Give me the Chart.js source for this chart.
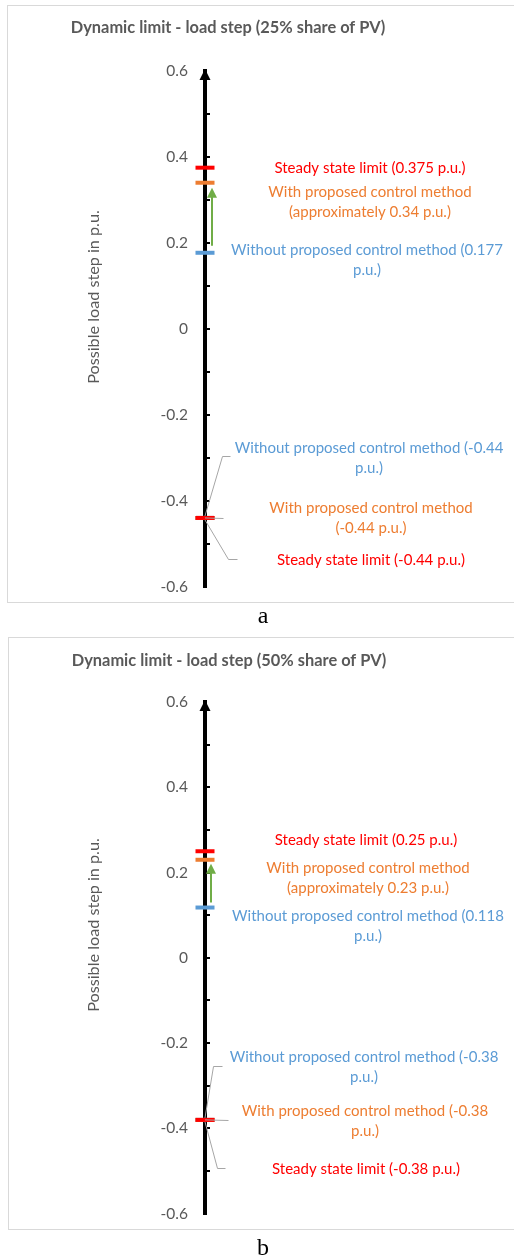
<!DOCTYPE html>
<html><head><meta charset="utf-8">
<script src="https://cdn.jsdelivr.net/npm/chart.js@4"></script>
<style>
html,body{margin:0;padding:0;background:#fff;overflow:hidden;width:514px;height:1257px;}
.frame{position:absolute;border:1px solid #d9d9d9;border-right:none;}
canvas{position:absolute;left:0;}
.cap{position:absolute;font-family:"Liberation Serif",serif;font-size:24px;line-height:24px;color:#000;width:514px;text-align:center;left:6px;}
</style></head>
<body>
<div class="frame" style="left:7px;top:5px;width:507px;height:596px;"></div>
<div class="frame" style="left:8px;top:637px;width:506px;height:591px;"></div>
<canvas id="chartA" width="514" height="605" style="top:0px"></canvas>
<canvas id="chartB" width="514" height="605" style="top:630px"></canvas>
<div class="cap" style="top:603px">a</div>
<div class="cap" style="top:1235px">b</div>
<script>
// ---- data ----
const categories = ['Steady state limit', 'With proposed control method', 'Without proposed control method'];
const seriesColors = ['#FF0000', '#ED7D31', '#5B9BD5'];
const upperA = [0.375, 0.34, 0.177];
const lowerA = [-0.44, -0.44, -0.44];
const upperB = [0.25, 0.23, 0.118];
const lowerB = [-0.38, -0.38, -0.38];
const yTickLabels = ['-0.6', '-0.4', '-0.2', '0', '0.2', '0.4', '0.6'];
const titles = ['Dynamic limit - load step (25% share of PV)', 'Dynamic limit - load step (50% share of PV)'];
const axisTitle = 'Possible load step in p.u.';
const upperTextA = [['Steady state limit (0.375 p.u.)'], ['With proposed control method', '(approximately 0.34 p.u.)'], ['Without proposed control method (0.177', 'p.u.)']];
const lowerTextA = [['Steady state limit (-0.44 p.u.)'], ['With proposed control method', '(-0.44 p.u.)'], ['Without proposed control method (-0.44', 'p.u.)']];
const upperTextB = [['Steady state limit (0.25 p.u.)'], ['With proposed control method', '(approximately 0.23 p.u.)'], ['Without proposed control method (0.118', 'p.u.)']];
const lowerTextB = [['Steady state limit (-0.38 p.u.)'], ['With proposed control method (-0.38', 'p.u.)'], ['Without proposed control method (-0.38', 'p.u.)']];

// ---- layout (pixel placement of plot area and annotations) ----
const layoutA = {
  areaTop: 71, areaBottom: 587, title: {cx: 228, cy: 28}, axisTitle: {cx: 94, cy: 297},
  arrow: {x: 212, bottomOff: -7, topOff: 5},
  upperPos: [{cx: 370, cy: 168}, {cx: 370, cy: 192}, {cx: 367, cy: 250}],
  lowerPos: [{cx: 371, cy: 560}, {cx: 371, cy: 508}, {cx: 369, cy: 448}],
  leaders: [[{dx: 0, dy: 2}, [228, 559], [237, 559]], [{dx: 0, dy: 0}, [223, 518]], [{dx: 0, dy: -2}, [222, 456], [230, 456]]]
};
const layoutB = {
  areaTop: 72, areaBottom: 584, title: {cx: 229, cy: 31}, axisTitle: {cx: 94, cy: 295},
  arrow: {x: 211, bottomOff: -5, topOff: 4},
  upperPos: [{cx: 366, cy: 210}, {cx: 368, cy: 238}, {cx: 368, cy: 286}],
  lowerPos: [{cx: 366, cy: 539}, {cx: 365, cy: 481}, {cx: 364, cy: 427}],
  leaders: [[{dx: 0, dy: 2}, [217, 538], [225, 538]], [{dx: 0, dy: 0}, [228, 490]], [{dx: 0, dy: -2}, [213, 436], [222, 436]]]
};

const FONT = 'Lato';
const GREY = '#595959';

const decor = {
  id: 'decor',
  afterDraw(chart, args, o) {
    const ctx = chart.ctx;
    const ys = chart.scales.y;
    const ax = ys.right;
    const L = o.layout;
    ctx.save();
    // arrow head on the axis
    const top = ys.getPixelForValue(0.6);
    ctx.fillStyle = '#000';
    ctx.beginPath();
    ctx.moveTo(ax, top - 2);
    ctx.lineTo(ax - 5.5, top + 9);
    ctx.lineTo(ax + 5.5, top + 9);
    ctx.closePath();
    ctx.fill();
    // small ticks every 0.1, right side of the axis
    for (let k = -5; k <= 5; k++) {
      const py = Math.round(ys.getPixelForValue(k / 10));
      ctx.fillRect(ax + 2, py - 1, 3, 2);
    }
    // leader lines for the lower labels
    ctx.strokeStyle = '#a6a6a6';
    ctx.lineWidth = 1;
    o.lower.forEach((v, i) => {
      const pts = L.leaders[i];
      const my = ys.getPixelForValue(v);
      ctx.beginPath();
      ctx.moveTo(ax + pts[0].dx, my + pts[0].dy);
      for (let j = 1; j < pts.length; j++) ctx.lineTo(pts[j][0] + 0.5, pts[j][1] + 0.5);
      ctx.stroke();
    });
    // green arrow from "without" to "with"
    const yFrom = ys.getPixelForValue(o.upper[2]) + L.arrow.bottomOff;
    const yTo = ys.getPixelForValue(o.upper[1]) + L.arrow.topOff;
    ctx.strokeStyle = '#70AD47';
    ctx.fillStyle = '#70AD47';
    ctx.lineWidth = 2;
    ctx.beginPath();
    ctx.moveTo(L.arrow.x, yFrom);
    ctx.lineTo(L.arrow.x, yTo + 8);
    ctx.stroke();
    ctx.beginPath();
    ctx.moveTo(L.arrow.x, yTo);
    ctx.lineTo(L.arrow.x - 5, yTo + 10);
    ctx.lineTo(L.arrow.x + 5, yTo + 10);
    ctx.closePath();
    ctx.fill();
    // chart title and axis title
    ctx.textAlign = 'center';
    ctx.textBaseline = 'middle';
    ctx.fillStyle = GREY;
    ctx.font = `bold 16.4px ${FONT}`;
    ctx.fillText(o.title, L.title.cx, L.title.cy);
    ctx.save();
    ctx.translate(L.axisTitle.cx, L.axisTitle.cy);
    ctx.rotate(-Math.PI / 2);
    ctx.font = `16.2px ${FONT}`;
    ctx.fillText(axisTitle, 0, 0);
    ctx.restore();
    // data labels
    ctx.font = `15px ${FONT}`;
    const drawLabel = (lines, pos, color) => {
      ctx.fillStyle = color;
      lines.forEach((t, j) => ctx.fillText(t, pos.cx, pos.cy + j * 20.5));
    };
    o.upperText.forEach((lines, i) => drawLabel(lines, L.upperPos[i], seriesColors[i]));
    o.lowerText.forEach((lines, i) => drawLabel(lines, L.lowerPos[i], seriesColors[i]));
    ctx.restore();
  }
};

function buildChart(canvas, upper, lower, upperText, lowerText, title, L) {
  const datasets = categories.map((name, i) => ({
    label: name,
    data: [{x: 0, y: upper[i]}, {x: 0, y: lower[i]}],
    pointStyle: 'line',
    pointRadius: 9.5,
    pointBorderWidth: 4,
    borderColor: seriesColors[i],
    backgroundColor: seriesColors[i],
    showLine: false,
    clip: false
  }));
  return new Chart(canvas, {
    type: 'scatter',
    data: {datasets},
    options: {
      responsive: false,
      animation: false,
      devicePixelRatio: 1,
      events: [],
      layout: {autoPadding: false, padding: {top: L.areaTop, bottom: 0, left: 0, right: 0}},
      plugins: {
        legend: {display: false},
        tooltip: {enabled: false},
        decor: {layout: L, upper, lower, upperText, lowerText, title}
      },
      scales: {
        x: {type: 'linear', min: 0, max: 1, display: false},
        y: {
          type: 'linear', min: -0.6, max: 0.6,
          afterFit: s => { s.width = 205; },
          ticks: {stepSize: 0.2, padding: 17, color: GREY, font: {family: FONT, size: 15.5},
                  callback: (v, i) => yTickLabels[i]},
          grid: {display: true, drawOnChartArea: false, drawTicks: false, lineWidth: 2, color: '#000'},
          border: {display: true, color: '#000', width: 4}
        }
      }
    },
    plugins: [decor]
  });
}

function makeChart(id, upper, lower, upperText, lowerText, title, L) {
  const canvas = document.getElementById(id);
  let chart = null;
  for (let attempt = 0; attempt < 4; attempt++) {
    chart = buildChart(canvas, upper, lower, upperText, lowerText, title, L);
    const d = L.areaBottom - chart.chartArea.bottom;
    if (Math.abs(d) < 0.75 || attempt === 3) break;
    chart.destroy();
    const h = canvas.height + Math.round(d);
    canvas.height = h;
    canvas.setAttribute('height', h);
  }
  return chart;
}

makeChart('chartA', upperA, lowerA, upperTextA, lowerTextA, titles[0], layoutA);
makeChart('chartB', upperB, lowerB, upperTextB, lowerTextB, titles[1], layoutB);
</script>
</body></html>
